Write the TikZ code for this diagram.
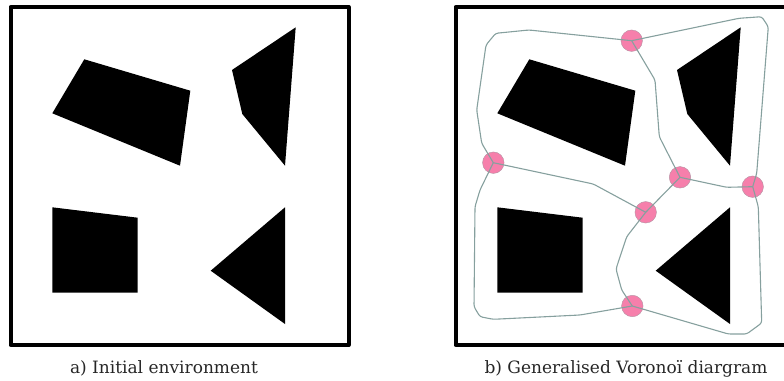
\documentclass[tikz,border=0pt]{standalone}
\usepackage{fontspec}
\setmainfont{DejaVu Serif}
\usetikzlibrary{calc}
\definecolor{vorline}{HTML}{86A09E}
\definecolor{vorpink}{HTML}{F67FAB}
\tikzstyle{frameline} = [draw=black,line width=4pt,line join=round]
\tikzstyle{obstacle} = [fill=black]
\tikzstyle{vorpoi} = [circle,minimum size=21.5pt,inner sep=0pt,fill=vorpink,draw=vorline!60!vorpink,thin]
\tikzstyle{voredge} = [draw=vorline,line width=1.1pt,line join=round,rounded corners=2.5pt]
\tikzstyle{caption} = [inner sep=0pt,anchor=base,text=black!85,font=\fontsize{17}{20}\selectfont]
\newcommand{\obstacles}{
	\fill[obstacle] (84.3,59.3)--(190.3,90.7)--(180,165.7)--(52.3,113.3)--cycle;
	\fill[obstacle] (295.7,27.3)--(285,165.7)--(242.3,114)--(232,70)--cycle;
	\fill[obstacle] (52.3,207.3)--(137.7,217.7)--(137.7,292.7)--(52.3,292.7)--cycle;
	\fill[obstacle] (285,207.3)--(285,324)--(210.7,270.7)--cycle;
}

\begin{document}
\begin{tikzpicture}[x=1pt,y=-1pt]

\useasboundingbox (0,0) rectangle (784,380);

% left panel
\draw[frameline] (10.5,7) rectangle (348.5,345);
\obstacles
\node (capa) [caption] at (164,373.5) {a) Initial environment};

% right panel
\draw[frameline] (800,7)--(455.5,7)--(455.5,345)--(800,345);
\begin{scope}[xshift=445pt]
\obstacles
\end{scope}
\node (capb) [caption] at (626,373.5) {b) Generalised Voronoï diargram};

\node (vor1) [vorpoi] at (631.7,40.7) {};
\node (vor2) [vorpoi] at (493.3,162.7) {};
\node (vor3) [vorpoi] at (680,177.3) {};
\node (vor4) [vorpoi] at (752.7,186.7) {};
\node (vor5) [vorpoi] at (645.7,212.3) {};
\node (vor6) [vorpoi] at (632.3,306) {};

\draw[voredge] (vor1.center)--(529,30)--(495.7,33.3)--(486,45)--(476.7,110)--(481.7,143.3)--(vor2.center);
\draw[voredge] (vor1.center)--(739,18.3)--(761.7,16.7)--(768.3,26.7)--(756.7,173.3)--(vor4.center);
\draw[voredge] (vor1.center)--(655,80)--(659.3,136.7)--(vor3.center);
\draw[voredge] (vor2.center)--(593.3,184)--(vor5.center);
\draw[voredge] (vor3.center)--(726.7,187.3)--(vor4.center);
\draw[voredge] (vor3.center)--(vor5.center);
\draw[voredge] (vor5.center)--(626.7,236.7)--(616,269)--(621.7,290)--(vor6.center);
\draw[voredge] (vor2.center)--(480,190)--(475,206.7)--(474,306.7)--(480,316.7)--(493.3,319.3)--(580,315)--(vor6.center);
\draw[voredge] (vor6.center)--(728.3,334)--(746.7,334)--(761.7,323)--(758.3,206.7)--(vor4.center);

\end{tikzpicture}
\end{document}
